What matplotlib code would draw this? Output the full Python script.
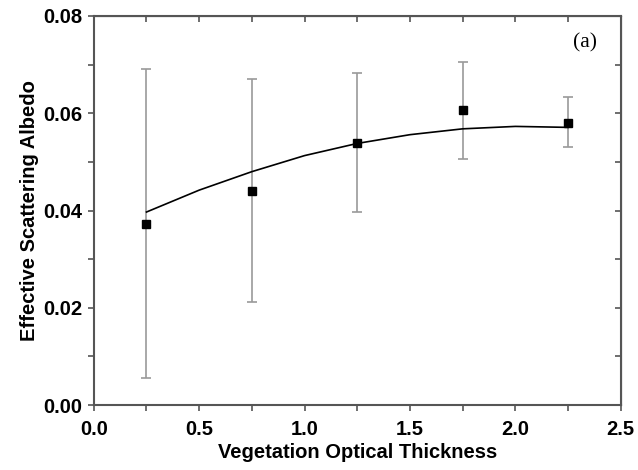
import matplotlib.pyplot as plt
from matplotlib.ticker import MultipleLocator

# measured points with error bars
tau = [0.25, 0.75, 1.25, 1.75, 2.25]
albedo = [0.0372, 0.0440, 0.0539, 0.0607, 0.0581]
err_low = [0.0056, 0.0211, 0.0398, 0.0507, 0.0531]
err_high = [0.0691, 0.0670, 0.0682, 0.0705, 0.0634]

# fitted curve
fit_tau = [0.25, 0.5, 0.75, 1.0, 1.25, 1.5, 1.75, 2.0, 2.25]
fit_albedo = [0.0397, 0.0442, 0.0480, 0.0513, 0.0538, 0.0556, 0.0568, 0.0573, 0.0571]


def main():
    fig = plt.figure(figsize=(6.38, 4.70), dpi=100)
    ax = fig.add_axes([0.147, 0.138, 0.826, 0.828])

    yerr = [[a - lo for a, lo in zip(albedo, err_low)],
            [hi - a for a, hi in zip(albedo, err_high)]]
    ax.errorbar(tau, albedo, yerr=yerr, fmt='none', ecolor='#9a9a9a',
                elinewidth=1.2, capsize=3.5, capthick=1.2, zorder=2)
    ax.plot(fit_tau, fit_albedo, color='black', lw=1.2, zorder=3)
    ax.plot(tau, albedo, 's', color='black', markersize=5.5, zorder=4)

    ax.set_xlim(0, 2.5)
    ax.set_ylim(0, 0.08)
    ax.xaxis.set_major_locator(MultipleLocator(0.5))
    ax.xaxis.set_minor_locator(MultipleLocator(0.25))
    ax.yaxis.set_major_locator(MultipleLocator(0.02))
    ax.yaxis.set_minor_locator(MultipleLocator(0.01))
    ax.xaxis.set_major_formatter(plt.FormatStrFormatter('%.1f'))
    ax.yaxis.set_major_formatter(plt.FormatStrFormatter('%.2f'))

    for s in ax.spines.values():
        s.set_color('#555555')
        s.set_linewidth(1.5)

    ax.tick_params(which='both', direction='out', length=4.5, width=1.2,
                   color='#555555', top=False, right=False)
    ax.tick_params(axis='x', pad=6)
    for lab in ax.get_xticklabels() + ax.get_yticklabels():
        lab.set_fontweight('bold')
        lab.set_fontsize(14.5)
        lab.set_family('Liberation Sans')

    # top and right: inward ticks, no labels
    top = ax.secondary_xaxis('top')
    top.xaxis.set_major_locator(MultipleLocator(0.25))
    top.tick_params(direction='in', length=4.5, width=1.2, color='#555555',
                    labeltop=False)
    right = ax.secondary_yaxis('right')
    right.yaxis.set_major_locator(MultipleLocator(0.01))
    right.tick_params(direction='in', length=4.5, width=1.2, color='#555555',
                      labelright=False)

    ax.set_xlabel('Vegetation Optical Thickness', fontsize=14.5,
                  fontweight='bold', family='Liberation Sans', labelpad=3)
    ax.set_ylabel('Effective Scattering Albedo', fontsize=14.5,
                  fontweight='bold', family='Liberation Sans', labelpad=3)

    ax.text(2.33, 0.0745, '(a)', fontsize=15.5, family='Liberation Serif',
            ha='center', va='center')

    fig.savefig('out.png', dpi=100)


if __name__ == "__main__":
    main()
